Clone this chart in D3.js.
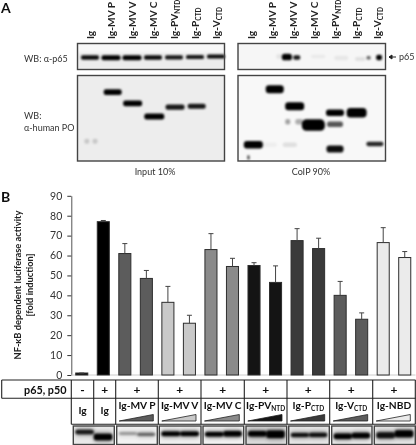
<!DOCTYPE html>
<html><head><meta charset="utf-8">
<script src="https://cdn.jsdelivr.net/npm/d3@7"></script>
<style>html,body{margin:0;padding:0;background:#fff}svg{display:block}text{font-family:Lato,"Open Sans",sans-serif;fill:#222}</style>
</head><body><div id="c"></div>
<script>
// ---- data ----
const blotLabels = [["Ig"],["Ig-MV P"],["Ig-MV V"],["Ig-MV C"],["Ig-PV","NTD"],["Ig-P","CTD"],["Ig-V","CTD"]];
const barGroups = ["Ig-","Ig+","MVP","MVP","MVV","MVV","MVC","MVC","PV","PV","P","P","V","V","NBD","NBD"];
const barValues = [1,77,61,48.5,36.5,26,63,54.5,55,46.5,67.5,63.5,40,28,66.5,59];
const barErrorTops = [1,77.6,66,52.5,44.5,30,71,58.6,56.4,54.8,73.5,68.7,47,31.2,74,62];
const yTicks = [0,10,20,30,40,50,60,70,80,90];
const treatments = ["-","+","+","+","+","+","+","+","+"];
const cellLabels = [["Ig"],["Ig"],["Ig-MV P"],["Ig-MV V"],["Ig-MV C"],["Ig-PV","NTD"],["Ig-P","CTD"],["Ig-V","CTD"],["Ig-NBD"]];
const groupKeys = ["Ig-","Ig+","MVP","MVV","MVC","PV","P","V","NBD"];
const groupFills = ["#111111","#000000","#5c5c5c","#c9c9c9","#8a8a8a","#141414","#3a3a3a","#5c5c5c","#ebebeb"];
// blot bands: [lane, migration %, signal, breadth, load]
const inputP65 = [[0,54,.95,18,.3],[1,55,1,19,.36],[2,55,1,19,.36],[3,54,.95,18,.3],[4,53,.9,18,.28],[5,52,.9,18,.26],[6,50,.95,18,.26]];
const coipP65 = [[1.71,52,1,10,.5],[2.18,54,.9,7,.3],[5.6,55,.6,4,.2],[6.1,54,1,6,.4],[1.35,50,.08,6,.3],[5.2,60,.1,10,.2],[4.3,56,.06,14,.3],[3.2,50,.05,14,.2]];
const inputPO = [[1.08,19.4,1,18,.42],[2.03,32.6,1,19,.42],[3.06,48,1,20,.45],[4.05,37,.9,19,.38],[5.08,36,.9,18,.36],[-.15,77,.16,5,.35],[.24,77,.16,5,.35]];
const coipPO = [[.11,81,1,19,.6],[1.13,16,1,18,.66],[2.08,36,1,19,.66],[1.75,54,.35,5,.4],[2.3,54,.3,8,.4],[2.97,58,1,23,1],[4,43.5,1,18,.5],[4,57,.65,16,.4],[4,86,.95,17,.55],[5.03,43.5,1,20,.8],[5.9,80,.85,17,.3],[-.12,96,.8,2,.3],[1.85,81,.1,14,.3],[.9,81,.04,14,.3]];
// loading-control strip: [cell, lane, migration %, signal, load]
const controlTones = [.84,.9,.88,.9,.76,.82,.86,.82];
const controlBands = [[0,0,32,.85,.3],[0,1,60,1,.5],[1,0,40,.3,.15],[1,1,45,.5,.18],[2,0,42,1,.3],[2,1,42,1,.3],[3,0,45,1,.3],[3,1,42,1,.4],[4,0,42,1,.4],[4,1,45,1,.6],[5,0,48,.9,.25],[5,1,48,.9,.28],[6,0,55,1,.4],[6,1,52,1,.4],[7,0,50,.9,.45],[7,1,42,1,.55]];

// ---- layout ----
const W=416,H=445;
const svg=d3.select("#c").append("svg").attr("width",W).attr("height",H);
const defs=svg.append("defs");
defs.append("filter").attr("id","soft").attr("x","-30%").attr("y","-60%").attr("width","160%").attr("height","220%")
  .append("feGaussianBlur").attr("stdDeviation",.9);
defs.append("filter").attr("id","halo").attr("x","-30%").attr("y","-100%").attr("width","160%").attr("height","300%")
  .append("feGaussianBlur").attr("stdDeviation",2);
defs.append("filter").attr("id","txt").append("feGaussianBlur").attr("stdDeviation",.22);
const g=svg.append("g");
const tx=g.append("g").attr("filter","url(#txt)");

tx.append("text").attr("x",1).attr("y",13).attr("font-size",14).attr("font-weight",700).style("fill","#111").text("A");
tx.append("text").attr("x",1).attr("y",202).attr("font-size",14).attr("font-weight",700).style("fill","#111").text("B");

// Panel A
const panels=[
 {x0:77.5,x1:224.5,lane:d3.scaleLinear([0,6],[90,216]),top:inputP65,bottom:inputPO},
 {x0:238,x1:385.5,lane:d3.scaleLinear([0,6],[251,377]),top:coipP65,bottom:coipPO}];
const migTop=d3.scaleLinear([0,100],[43.5,69.5]);
const migBot=d3.scaleLinear([0,100],[75.5,161]);
const thick=d3.scaleLinear([0,1],[1.5,11.5]);
function blot(x0,x1,y0,y1,bg){
  g.append("rect").attr("x",x0).attr("y",y0).attr("width",x1-x0).attr("height",y1-y0).attr("fill",bg);
}
function frame(x0,x1,y0,y1){
  g.append("rect").attr("x",x0).attr("y",y0).attr("width",x1-x0).attr("height",y1-y0).attr("fill","none").attr("stroke","#444").attr("stroke-width",1.4);
}
function bands(list,lane,mig){
  g.append("g").attr("filter","url(#soft)").selectAll("rect").data(list).join("rect")
   .attr("x",d=>lane(d[0])-d[3]/2).attr("width",d=>d[3])
   .attr("y",d=>mig(d[1])-thick(d[4])/2).attr("height",d=>thick(d[4]))
   .attr("rx",d=>Math.min(d[3],thick(d[4]))/2.5)
   .attr("fill","#000").attr("opacity",d=>d[2]);
}
panels.forEach((p,i)=>{
  blot(p.x0,p.x1,migTop(0),migTop(100),i?"#f6f6f6":"#ececec");
  blot(p.x0,p.x1,migBot(0),migBot(100),i?"#f8f8f8":"#ededed");
  if(!i){ g.append("rect").attr("x",p.x0).attr("y",migTop(0)).attr("width",p.x1-p.x0).attr("height",9).attr("fill","#f8f8f8").attr("filter","url(#soft)"); }
  bands(p.top,p.lane,migTop);
  bands(p.bottom,p.lane,migBot);
  frame(p.x0,p.x1,migTop(0),migTop(100));
  frame(p.x0,p.x1,migBot(0),migBot(100));
  blotLabels.forEach((l,k)=>{
    const t=tx.append("text").attr("transform",`translate(${p.lane(k)+4},39) rotate(-90)`).attr("font-size",10.2).attr("font-weight",700);
    t.append("tspan").text(l[0]);
    if(l[1]) t.append("tspan").attr("font-size",6.5).attr("dy",2).text(l[1]);
  });
});
const small=(x,y,s,a)=>tx.append("text").attr("x",x).attr("y",y).attr("font-size",9).attr("text-anchor",a||"start").style("fill","#333").text(s);
small(24,62,"WB: α-p65"); small(24,119,"WB:"); small(24,131,"α-human PO");
small(155,175,"Input 10%","middle"); small(311,175,"CoIP 90%","middle");
small(399,60,"p65");
g.append("path").attr("d","M389 57H396M389 57l3 -2v4z").attr("stroke","#222").attr("fill","#222").attr("stroke-width",1);

// Panel B chart
const x=d3.scaleBand().domain(d3.range(barValues.length)).range([71,415.5]).paddingInner(.44).paddingOuter(.22);
const y=d3.scaleLinear().domain([0,90]).range([375,195.8]);
const color=d3.scaleOrdinal(groupKeys,groupFills);
const axis=g.append("g").attr("transform","translate(71.3,0)").call(d3.axisLeft(y).tickValues(yTicks).tickSize(4).tickSizeOuter(0).tickPadding(5));
axis.select(".domain").attr("stroke","#555");
axis.selectAll("line").attr("stroke","#333");
axis.selectAll("text").attr("font-size",10.5).style("fill","#333").attr("font-family","Lato");
g.append("line").attr("x1",71.3).attr("x2",415.5).attr("y1",375).attr("y2",375).attr("stroke","#ccc");
const cx=i=>x(i)+x.bandwidth()/2;
g.selectAll(".bar").data(barValues).join("rect").attr("class","bar")
 .attr("x",(d,i)=>x(i)).attr("width",x.bandwidth())
 .attr("y",d=>y(d)).attr("height",d=>y(0)-y(d))
 .attr("fill",(d,i)=>color(barGroups[i])).attr("stroke","#2e2e2e").attr("stroke-width",1);
g.selectAll(".err").data(barErrorTops).join("line").attr("class","err")
 .attr("x1",(d,i)=>cx(i)).attr("x2",(d,i)=>cx(i))
 .attr("y1",(d,i)=>y(barValues[i])).attr("y2",d=>y(d)).attr("stroke","#444");
g.selectAll(".cap").data(barErrorTops).join("line").attr("class","cap")
 .attr("x1",(d,i)=>cx(i)-2.5).attr("x2",(d,i)=>cx(i)+2.5)
 .attr("y1",d=>y(d)).attr("y2",d=>y(d)).attr("stroke","#444");
const yl=tx.append("g").attr("transform","translate(0,285)");
yl.append("text").attr("transform","translate(21,0) rotate(-90)").attr("text-anchor","middle").attr("font-size",9.3).attr("font-weight",700).text("NF-κB dependent luciferase activity");
yl.append("text").attr("transform","translate(33,0) rotate(-90)").attr("text-anchor","middle").attr("font-size",9.3).attr("font-weight",700).text("[fold induction]");

// Table
const cols=[71.3,93.7,115.7,158.3,201,244.3,287,329.7,372.7,415.3];
const rowT=[380,398.3,424.3], stripY=[426,444.5];
const line=(a,b,c,d)=>g.append("line").attr("x1",a).attr("y1",b).attr("x2",c).attr("y2",d).attr("stroke","#222").attr("stroke-width",1.1);
line(1.7,rowT[0],415.5,rowT[0]); line(1.7,rowT[1],415.5,rowT[1]); line(71.3,rowT[2],415.5,rowT[2]);
line(1.7,rowT[0],1.7,rowT[1]);
cols.forEach(c=>line(c,rowT[0],c,rowT[2]));
tx.append("text").attr("x",66.5).attr("y",393.5).attr("text-anchor","end").attr("font-size",10.8).attr("font-weight",700).style("fill","#111").text("p65, p50");
treatments.forEach((s,i)=>{
  const m=(cols[i]+cols[i+1])/2;
  tx.append("text").attr("x",m).attr("y",393.5).attr("text-anchor","middle").attr("font-size",12).attr("font-weight",700).style("fill","#111").text(s);
  const lab=cellLabels[i], two=i>1;
  const t=tx.append("text").attr("x",m).attr("y",two?409:414).attr("text-anchor","middle").attr("font-size",10.2).attr("font-weight",700).style("fill","#111");
  t.append("tspan").text(lab[0]);
  if(lab[1]) t.append("tspan").attr("font-size",6.5).attr("dy",2).text(lab[1]);
  if(two){
    const a=cols[i]+3.5,b=cols[i+1]-5;
    g.append("path").attr("d",`M${a} 421L${b} 421L${b} 414.5Z`).attr("fill",color(groupKeys[i])).attr("stroke","#222").attr("stroke-width",.8);
  }
});
// strip: cell 0 holds both Ig lanes
const stripCols=[[73.3,114.3],[116.7,157.3],[159.3,201],[203,243.7],[246,286.7],[288.7,329.3],[331.7,372],[374.3,415.3]];
const migStrip=d3.scaleLinear([0,100],stripY);
stripCols.forEach((c,i)=>{
  blot(c[0],c[1],stripY[0],stripY[1],d3.interpolateGreys(1-controlTones[i]));
});
function stripBands(filter,extra,op){
  g.append("g").attr("filter",`url(#${filter})`).selectAll("rect").data(controlBands).join("rect")
   .attr("x",d=>{const c=stripCols[d[0]],w=c[1]-c[0];return c[0]+w*(d[1]?.5:.05);})
   .attr("width",d=>{const c=stripCols[d[0]];return (c[1]-c[0])*.45;})
   .attr("y",d=>migStrip(d[2])-(thick(d[4])+extra)/2).attr("height",d=>thick(d[4])+extra).attr("rx",2)
   .attr("fill","#000").attr("opacity",d=>d[3]*op);
}
stripBands("halo",3,.4);
stripBands("soft",0,1);
stripCols.forEach(c=>frame(c[0],c[1],stripY[0],stripY[1]));
</script></body></html>
